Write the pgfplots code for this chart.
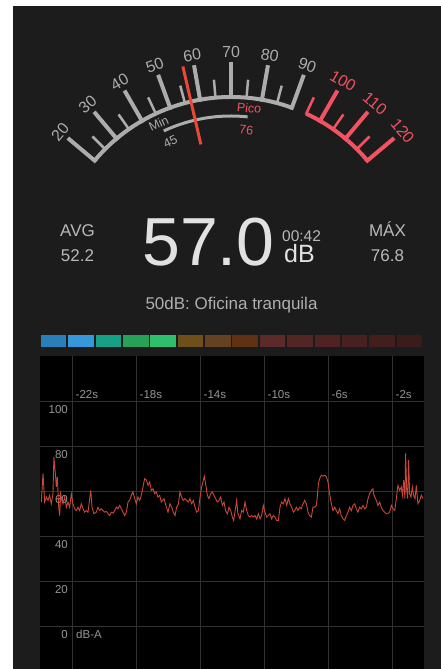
\documentclass[border=0pt]{standalone}
\usepackage{fontspec}
\setmainfont{Liberation Sans}
\usepackage{pgfplots}
\pgfplotsset{compat=1.18}
\usepackage{pgfplotstable}
\usetikzlibrary{calc}

\definecolor{bgdark}{RGB}{28,28,28}
\definecolor{gaugegray}{RGB}{172,172,172}
\definecolor{gaugered}{RGB}{242,82,98}
\definecolor{needle}{RGB}{232,72,52}
\definecolor{txtgray}{RGB}{185,185,185}
\definecolor{bigwhite}{RGB}{225,225,225}
\definecolor{subgray}{RGB}{175,175,175}
\definecolor{lblgray}{RGB}{150,150,150}
\definecolor{gridgray}{RGB}{50,50,50}
\definecolor{linered}{RGB}{200,72,58}
\definecolor{c1}{RGB}{41,128,185}
\definecolor{c2}{RGB}{52,152,219}
\definecolor{c3}{RGB}{22,160,133}
\definecolor{c4}{RGB}{39,160,90}
\definecolor{c5}{RGB}{46,190,110}
\definecolor{c6}{RGB}{110,78,25}
\definecolor{c7}{RGB}{100,65,35}
\definecolor{c8}{RGB}{95,50,20}
\definecolor{c9}{RGB}{92,42,40}
\definecolor{c10}{RGB}{82,38,36}
\definecolor{c11}{RGB}{78,35,34}
\definecolor{c12}{RGB}{72,32,31}
\definecolor{c13}{RGB}{66,30,29}
\definecolor{c14}{RGB}{58,28,28}

\pgfplotstableread{
t db
-23.92 55.1
-23.81 67.8
-23.71 55.1
-23.60 57.3
-23.50 55.8
-23.40 58.1
-23.29 54.3
-23.19 58.8
-23.13 75.2
-23.04 67.8
-22.98 61.8
-22.92 66.3
-22.83 52.8
-22.77 49.1
-22.71 58.8
-22.63 55.8
-22.56 54.3
-22.46 57.3
-22.35 52.8
-22.25 55.1
-22.15 52.8
-22.04 58.8
-21.94 54.3
-21.83 52.1
-21.73 51.3
-21.63 52.8
-21.52 51.3
-21.42 54.3
-21.31 52.1
-21.21 50.6
-21.10 51.3
-21.00 50.6
-20.83 60.3
-20.75 52.8
-20.63 49.9
-20.48 50.6
-20.38 52.8
-20.27 51.3
-20.17 52.1
-20.06 51.3
-19.96 50.6
-19.85 50.9
-19.75 49.9
-19.65 49.1
-19.54 50.6
-19.43 50.2
-19.33 51.3
-19.23 52.8
-19.13 52.1
-19.02 53.6
-18.92 52.1
-18.81 50.6
-18.71 49.1
-18.60 50.6
-18.50 55.1
-18.40 55.8
-18.29 58.1
-18.19 59.6
-18.08 56.6
-17.98 54.3
-17.88 57.3
-17.77 55.8
-17.67 58.1
-17.56 61.8
-17.46 65.5
-17.35 64.8
-17.25 62.5
-17.15 64.0
-17.04 60.3
-16.94 61.0
-16.83 58.8
-16.73 59.6
-16.63 57.3
-16.52 58.1
-16.42 55.1
-16.25 56.6
-16.10 52.8
-16.00 50.6
-15.88 54.3
-15.77 52.8
-15.67 50.6
-15.56 49.1
-15.46 52.8
-15.35 54.3
-15.25 59.6
-15.15 57.3
-15.04 55.8
-14.94 56.6
-14.83 55.8
-14.73 55.1
-14.63 56.6
-14.52 54.3
-14.42 55.8
-14.31 52.8
-14.21 50.6
-14.10 51.3
-14.00 57.3
-13.90 61.8
-13.79 64.8
-13.73 66.6
-13.65 63.3
-13.54 58.1
-13.44 56.6
-13.33 58.8
-13.23 59.6
-13.13 58.1
-13.02 56.6
-12.92 55.1
-12.81 55.8
-12.71 57.3
-12.60 53.6
-12.50 55.1
-12.40 51.3
-12.29 49.9
-12.19 52.8
-12.08 51.3
-11.98 48.4
-11.90 46.9
-11.77 52.8
-11.71 55.8
-11.63 49.9
-11.50 47.6
-11.40 51.3
-11.29 50.6
-11.19 55.1
-11.08 51.3
-10.98 49.1
-10.88 48.4
-10.77 49.1
-10.67 48.4
-10.56 49.1
-10.46 47.6
-10.35 49.9
-10.25 47.6
-10.15 49.1
-10.04 53.6
-9.94 50.6
-9.83 48.4
-9.73 49.1
-9.63 49.9
-9.52 47.6
-9.42 49.1
-9.31 48.4
-9.21 46.9
-9.10 46.9
-9.00 52.8
-8.90 55.1
-8.79 54.3
-8.69 56.6
-8.58 53.6
-8.48 56.6
-8.38 54.3
-8.27 52.8
-8.17 50.6
-8.08 51.3
-7.98 52.8
-7.88 51.3
-7.77 52.8
-7.67 52.1
-7.56 54.3
-7.46 55.8
-7.35 54.3
-7.25 50.6
-7.15 49.1
-7.04 48.4
-6.94 52.8
-6.83 52.8
-6.73 53.6
-6.67 57.3
-6.60 63.3
-6.52 65.5
-6.42 67.0
-6.31 66.6
-6.21 67.0
-6.10 66.3
-6.00 64.0
-5.90 58.8
-5.79 54.3
-5.69 51.3
-5.58 52.8
-5.48 51.3
-5.38 49.9
-5.27 52.1
-5.17 49.1
-5.06 47.6
-4.96 46.9
-4.85 49.1
-4.75 50.6
-4.65 52.8
-4.54 51.3
-4.44 53.6
-4.33 54.3
-4.23 52.1
-4.13 50.6
-4.02 52.8
-3.92 52.1
-3.81 53.6
-3.71 52.1
-3.60 52.8
-3.50 56.6
-3.40 58.8
-3.29 60.3
-3.19 61.0
-3.15 58.8
-3.08 57.3
-2.98 55.8
-2.88 53.6
-2.77 55.1
-2.67 52.8
-2.56 51.3
-2.46 50.6
-2.35 49.9
-2.25 49.9
-2.15 50.6
-2.04 53.6
-1.94 52.1
-1.83 51.3
-1.73 56.6
-1.63 62.5
-1.52 60.3
-1.42 61.8
-1.35 58.1
-1.27 64.8
-1.19 56.6
-1.15 76.7
-1.08 60.3
-1.02 56.6
-0.96 73.7
-0.90 58.8
-0.81 57.3
-0.73 61.8
-0.65 58.1
-0.56 56.6
-0.48 62.5
-0.38 54.3
-0.27 55.8
-0.17 58.1
-0.06 56.6
}\noisedata

\tikzset{lbl/.style={inner sep=0pt, text=lblgray, font=\fontsize{11.5}{11.5}\selectfont}}

\begin{document}
\begin{tikzpicture}
\fill[white] (0pt,0pt) rectangle (441pt,669pt);
\fill[bgdark] (13pt,0pt) rectangle (441pt,663pt);
\coordinate (C) at (231pt,394pt);
% gauge arcs
\draw[gaugegray, line width=4pt] (C) ++(140:178pt) arc[start angle=140,end angle=70,radius=178pt];
\draw[gaugered, line width=4pt] (C) ++(65:178pt) arc[start angle=65,end angle=40,radius=178pt];
\foreach \v in {20,30,...,90}{
  \draw[gaugegray,line width=4pt] (C) ++({160-\v}:176pt) -- ++({160-\v}:37pt);
  \path (C) ++({160-\v}:223pt) node[rotate={70-\v},text=gaugegray,font=\fontsize{16}{16}\selectfont] {\v};
}
\foreach \v in {25,35,...,85}{
  \draw[gaugegray,line width=2.5pt] (C) ++({160-\v}:177pt) -- ++({160-\v}:19pt);
}
\foreach \v in {100,110,120}{
  \draw[gaugered,line width=4pt] (C) ++({160-\v}:176pt) -- ++({160-\v}:37pt);
  \path (C) ++({160-\v}:224pt) node[rotate={70-\v},text=gaugered,font=\fontsize{16}{16}\selectfont] {\v};
}
\foreach \v in {95,105,115}{
  \draw[gaugered,line width=2.5pt] (C) ++({160-\v}:177pt) -- ++({160-\v}:19pt);
}
% min / peak arc
\draw[gaugegray, line width=3pt] (C) ++(115:159pt) arc[start angle=115,end angle=84,radius=159pt];
\path (C) ++(115.5:168pt) node[rotate=25,text=gaugegray,font=\fontsize{12.5}{12.5}\selectfont] {Min};
\path (C) ++(114.5:146pt) node[rotate=25,text=gaugegray,font=\fontsize{12.5}{12.5}\selectfont] {45};
\path (C) ++(83.8:168pt) node[rotate=-6,text=gaugered,font=\fontsize{12.5}{12.5}\selectfont] {Pico};
\path (C) ++(84:146pt) node[rotate=-6,text=gaugered,font=\fontsize{12.5}{12.5}\selectfont] {76};
% needle
\draw[needle, line width=3pt] (C) ++(103:134pt) -- ++(103:80pt);
% readouts
\node[anchor=base,text=txtgray,font=\fontsize{17}{17}\selectfont] at (77.5pt,432.5pt) {AVG};
\node[anchor=base,text=txtgray,font=\fontsize{17}{17}\selectfont] at (77.5pt,407pt) {52.2};
\node[anchor=base,text=txtgray,font=\fontsize{17}{17}\selectfont] at (387.5pt,432.5pt) {MÁX};
\node[anchor=base,text=txtgray,font=\fontsize{17}{17}\selectfont] at (387.5pt,407pt) {76.8};
\node[anchor=base,text=bigwhite,font=\fontsize{68}{68}\selectfont] at (208.5pt,403pt) {57.0};
\node[anchor=base west,inner sep=0pt,text=txtgray,font=\fontsize{15.5}{15.5}\selectfont] at (282pt,427.3pt) {00:42};
\node[anchor=base west,inner sep=0pt,text=bigwhite,font=\fontsize{25}{25}\selectfont] at (284pt,406pt) {dB};
\node[anchor=base,text=subgray,font=\fontsize{17}{17}\selectfont] at (231.5pt,359pt) {50dB: Oficina tranquila};
% level bar
\begin{axis}[at={(40pt,322pt)}, anchor=south west, scale only axis, width=383pt, height=12pt,
  xmin=0, xmax=14, ymin=0, ymax=1, hide axis, clip=false]
\addplot[ybar, bar width=25.5pt, bar shift=0pt, fill=c1, draw=none] coordinates {(0.5,1)};
\addplot[ybar, bar width=25.5pt, bar shift=0pt, fill=c2, draw=none] coordinates {(1.5,1)};
\addplot[ybar, bar width=25.5pt, bar shift=0pt, fill=c3, draw=none] coordinates {(2.5,1)};
\addplot[ybar, bar width=25.5pt, bar shift=0pt, fill=c4, draw=none] coordinates {(3.5,1)};
\addplot[ybar, bar width=25.5pt, bar shift=0pt, fill=c5, draw=none] coordinates {(4.5,1)};
\addplot[ybar, bar width=25.5pt, bar shift=0pt, fill=c6, draw=none] coordinates {(5.5,1)};
\addplot[ybar, bar width=25.5pt, bar shift=0pt, fill=c7, draw=none] coordinates {(6.5,1)};
\addplot[ybar, bar width=25.5pt, bar shift=0pt, fill=c8, draw=none] coordinates {(7.5,1)};
\addplot[ybar, bar width=25.5pt, bar shift=0pt, fill=c9, draw=none] coordinates {(8.5,1)};
\addplot[ybar, bar width=25.5pt, bar shift=0pt, fill=c10, draw=none] coordinates {(9.5,1)};
\addplot[ybar, bar width=25.5pt, bar shift=0pt, fill=c11, draw=none] coordinates {(10.5,1)};
\addplot[ybar, bar width=25.5pt, bar shift=0pt, fill=c12, draw=none] coordinates {(11.5,1)};
\addplot[ybar, bar width=25.5pt, bar shift=0pt, fill=c13, draw=none] coordinates {(12.5,1)};
\addplot[ybar, bar width=25.5pt, bar shift=0pt, fill=c14, draw=none] coordinates {(13.5,1)};
\end{axis}
% history chart
\begin{axis}[at={(40pt,0pt)}, anchor=south west, scale only axis, width=384pt, height=313pt,
  xmin=-24, xmax=0, ymin=-19.11, ymax=120,
  axis background/.style={fill=black},
  axis line style={draw=none}, major tick length=0pt,
  xtick={-22,-18,-14,-10,-6,-2}, xticklabels={}, 
  ytick={0,20,40,60,80,100}, yticklabels={},
  tick label style={inner sep=0pt},
  grid=major, grid style={gridgray, line width=0.8pt},
  clip=true]
\node[lbl,anchor=east] at (axis cs:-22.25,96.22) {100};
\node[lbl,anchor=east] at (axis cs:-22.25,76.22) {80};
\node[lbl,anchor=east] at (axis cs:-22.25,56.22) {60};
\node[lbl,anchor=east] at (axis cs:-22.25,36.22) {40};
\node[lbl,anchor=east] at (axis cs:-22.25,16.22) {20};
\node[lbl,anchor=east] at (axis cs:-22.25,-3.78) {0};
\node[lbl,anchor=west] at (axis cs:-21.75,-3.78) {dB-A};
\node[lbl,anchor=west] at (axis cs:-21.78,102.67) {-22s};
\node[lbl,anchor=west] at (axis cs:-17.78,102.67) {-18s};
\node[lbl,anchor=west] at (axis cs:-13.78,102.67) {-14s};
\node[lbl,anchor=west] at (axis cs:-9.78,102.67) {-10s};
\node[lbl,anchor=west] at (axis cs:-5.78,102.67) {-6s};
\node[lbl,anchor=west] at (axis cs:-1.78,102.67) {-2s};
\addplot[linered, line width=0.9pt, mark=none] table[x=t,y=db]{\noisedata};
\end{axis}
\pgfresetboundingbox
\path[use as bounding box] (0pt,0pt) rectangle (441pt,669pt);
\end{tikzpicture}
\end{document}
